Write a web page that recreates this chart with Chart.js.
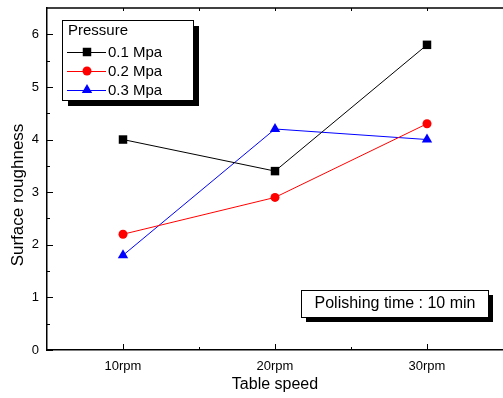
<!DOCTYPE html>
<html>
<head>
  <title>Surface roughness vs table speed</title>
  <style>
    body { margin: 0; padding: 0; background: #ffffff; }
    canvas { display: block; }
  </style>
  <script src="https://cdn.jsdelivr.net/npm/chart.js"></script>
</head>
<body>
  <canvas id="chart" width="503" height="398"></canvas>
  <script>
    // data
    const categories = ['10rpm', '20rpm', '30rpm'];
    const seriesLabels = ['0.1 Mpa', '0.2 Mpa', '0.3 Mpa'];
    const mpa01 = [4.0, 3.4, 5.8];
    const mpa02 = [2.2, 2.9, 4.3];
    const mpa03 = [1.8, 4.2, 4.0];
    const yTicks = [0, 1, 2, 3, 4, 5, 6];
    const legendTitle = 'Pressure';
    const noteText = 'Polishing time : 10 min';
    const yTitle = 'Surface roughness';
    const xTitle = 'Table speed';

    const FONT = '"Liberation Sans", Arial, sans-serif';
    const colors = ['#000000', '#ff0000', '#0000ff'];
    const styles = ['rect', 'circle', 'triangle'];
    const radii = [6, 4.5, 6];

    function toPoints(values) {
      return values.map((v, i) => ({ x: i + 1, y: v }));
    }

    var allSeries = [mpa01, mpa02, mpa03];
    var datasets = allSeries.map((vals, i) => ({
      label: seriesLabels[i],
      data: toPoints(vals),
      showLine: true,
      borderColor: colors[i],
      backgroundColor: colors[i],
      borderWidth: 1,
      pointStyle: styles[i],
      pointRadius: radii[i],
      pointHoverRadius: radii[i],
      pointBorderWidth: 0
    }));

    function marker(ctx, style, x, y, r, color) {
      ctx.save();
      ctx.fillStyle = color;
      ctx.beginPath();
      if (style === 'rect') {
        var s = r * Math.SQRT1_2;
        ctx.rect(x - s, y - s, 2 * s, 2 * s);
      } else if (style === 'circle') {
        ctx.arc(x, y, r, 0, Math.PI * 2);
      } else {
        ctx.moveTo(x, y - r);
        ctx.lineTo(x + r * 0.866, y + r * 0.5);
        ctx.lineTo(x - r * 0.866, y + r * 0.5);
        ctx.closePath();
      }
      ctx.fill();
      ctx.restore();
    }

    function shadowBox(ctx, x1, y1, x2, y2, off) {
      ctx.fillStyle = '#000';
      ctx.fillRect(x1 + off, y1 + off, x2 - x1, y2 - y1);
      ctx.fillStyle = '#fff';
      ctx.fillRect(x1, y1, x2 - x1, y2 - y1);
      ctx.strokeStyle = '#000';
      ctx.lineWidth = 1;
      ctx.strokeRect(x1 + 0.5, y1 + 0.5, x2 - x1, y2 - y1);
    }

    // axis ticks pointing inward, top line, legend, note box
    const decorPlugin = {
      id: 'decor',
      afterDraw(chart) {
        var ctx = chart.ctx;
        var a = chart.chartArea;
        var xs = chart.scales.x, ys = chart.scales.y;
        ctx.save();
        ctx.strokeStyle = '#000';
        ctx.lineWidth = 1.5;
        ctx.beginPath();
        ctx.moveTo(a.left, a.top);
        ctx.lineTo(a.right, a.top);
        ctx.stroke();

        ctx.lineWidth = 1;
        ctx.beginPath();
        for (var v = 1; v <= 3.01; v += 0.5) {
          var px = Math.round(xs.getPixelForValue(v)) + 0.5;
          var len = (v % 1 === 0) ? 6 : 3;
          ctx.moveTo(px, a.bottom);
          ctx.lineTo(px, a.bottom - len);
          ctx.moveTo(px, a.top);
          ctx.lineTo(px, a.top + 3);
        }
        for (var t = 0; t <= 6.01; t += 0.5) {
          var py = Math.round(ys.getPixelForValue(t)) + 0.5;
          var l = (t % 1 === 0) ? 6 : 3;
          ctx.moveTo(a.left, py);
          ctx.lineTo(a.left + l, py);
        }
        ctx.stroke();

        // y title
        ctx.save();
        ctx.translate(18, 195);
        ctx.rotate(-Math.PI / 2);
        ctx.fillStyle = '#000';
        ctx.font = '17px ' + FONT;
        ctx.textAlign = 'center';
        ctx.textBaseline = 'middle';
        ctx.fillText(yTitle, 0, 0);
        ctx.restore();

        // legend
        shadowBox(ctx, 62, 20, 193, 100, 6);
        ctx.fillStyle = '#000';
        ctx.font = '15px ' + FONT;
        ctx.textAlign = 'left';
        ctx.textBaseline = 'middle';
        ctx.fillText(legendTitle, 68, 31);
        var rows = [52, 71, 90];
        seriesLabels.forEach(function (lab, i) {
          ctx.strokeStyle = colors[i];
          ctx.lineWidth = 1;
          ctx.beginPath();
          ctx.moveTo(67, rows[i] + 0.5);
          ctx.lineTo(106, rows[i] + 0.5);
          ctx.stroke();
          marker(ctx, styles[i], 87, rows[i], radii[i], colors[i]);
          ctx.fillStyle = '#000';
          ctx.fillText(lab, 108, rows[i] + 1);
        });

        // note box
        shadowBox(ctx, 301, 290, 488, 317, 5);
        ctx.fillStyle = '#000';
        ctx.font = '16px ' + FONT;
        ctx.textAlign = 'center';
        ctx.fillText(noteText, 395, 304);
        ctx.restore();
      }
    };

    var chart = new Chart(document.getElementById('chart'), {
      type: 'scatter',
      data: { datasets: datasets },
      options: {
        responsive: false,
        animation: false,
        layout: { autoPadding: false, padding: { top: 8, right: 0, left: 0, bottom: 0 } },
        plugins: {
          legend: { display: false },
          tooltip: { enabled: false }
        },
        scales: {
          x: {
            type: 'linear',
            min: 0.5,
            max: 3.5,
            afterBuildTicks: function (s) {
              s.ticks = categories.map((c, i) => ({ value: i + 1 }));
            },
            afterFit: function (s) {
              s.height = 48;
              s.paddingLeft = 0;
              s.paddingRight = 0;
            },
            grid: { display: false, drawTicks: false },
            border: { display: true, color: '#000', width: 1.5 },
            ticks: {
              color: '#000',
              padding: 9,
              maxRotation: 0,
              font: { family: FONT, size: 13 },
              callback: function (v) { return categories[Math.round(v) - 1]; }
            },
            title: {
              display: true,
              text: xTitle,
              color: '#000',
              font: { family: FONT, size: 16 },
              padding: { top: 0, bottom: 4 }
            }
          },
          y: {
            min: 0,
            max: 6.5,
            afterBuildTicks: function (s) {
              s.ticks = yTicks.map(v => ({ value: v }));
            },
            afterFit: function (s) {
              s.width = 47;
              s.paddingTop = 0;
              s.paddingBottom = 0;
            },
            grid: { display: false, drawTicks: false },
            border: { display: true, color: '#000', width: 1.5 },
            ticks: {
              color: '#000',
              padding: 8,
              font: { family: FONT, size: 13 }
            }
          }
        }
      },
      plugins: [decorPlugin]
    });
  </script>
</body>
</html>
